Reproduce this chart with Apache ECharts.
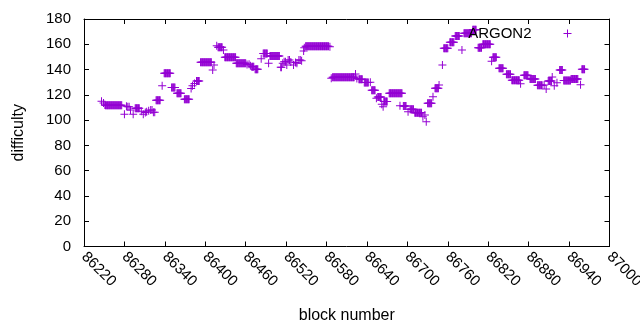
<!DOCTYPE html>
<html>
<head>
<meta charset="utf-8">
<script src="https://cdn.jsdelivr.net/npm/echarts@6/dist/echarts.min.js"></script>
<style>html,body{margin:0;padding:0;background:#fff}#c{width:640px;height:330px}</style>
</head>
<body>
<div id="c"></div>
<script>
const seriesName = 'ARGON2';
const xTickLabels = ['86220','86280','86340','86400','86460','86520','86580','86640','86700','86760','86820','86880','86940','87000'];
const yTickLabels = ['0','20','40','60','80','100','120','140','160','180'];
// [block number, difficulty], one mark per block
const samples = [
 [86246,115],[86249,113.5],[86251,112],
 [86252,111.7],[86253,111.7],[86254,111.7],[86255,111.7],[86256,111.7],[86257,111.7],[86258,111.7],[86259,111.7],[86260,111.7],[86261,111.7],
 [86262,111.7],[86263,111.7],[86264,111.7],[86265,111.7],[86266,111.7],[86267,111.7],[86268,111.7],[86269,111.7],[86270,111.7],[86271,111.7],
 [86272,111.7],[86273,111.7],[86274,111.7],[86275,111.7],[86276,111.7],
 [86280,104.6],[86283,111],[86285,110.5],[86287,110.5],[86289,108],[86293,104.6],
 [86296,109.3],[86297,109.3],[86298,109.3],[86299,109.3],[86300,109.3],[86301,109.3],[86302,109.3],
 [86305,107],[86308,104.6],[86311,106],[86313,106.7],[86316,107.5],[86319,108],[86321,108],[86323,106.2],[86325,106.2],
 [86327,115.7],[86328,115.7],[86329,115.7],[86330,115.7],[86331,115.7],[86332,115.7],[86333,115.7],
 [86336,127.2],
 [86339,137],[86340,137],[86341,137],[86342,137],[86343,137],[86344,137],[86345,137],[86346,137],[86347,137],[86348,137],
 [86350,125.8],[86351,125.8],[86352,125.8],[86353,125.8],[86354,125.8],[86355,125.8],
 [86358,121.2],[86359,121.2],[86360,121.2],[86361,121.2],[86362,121.2],[86363,121.2],[86364,121.2],
 [86369,116.5],[86370,116.5],[86371,116.5],[86372,116.5],[86373,116.5],[86374,116.5],[86375,116.5],[86376,116.5],
 [86379,125],[86381,127.2],[86384,129],
 [86387,131],[86388,131],[86389,131],[86390,131],[86391,131],
 [86393,145.7],[86394,145.7],[86395,145.7],[86396,145.7],[86397,145.7],[86398,145.7],[86399,145.7],[86400,145.7],[86401,145.7],
 [86402,145.7],[86403,145.7],[86404,145.7],[86405,145.7],[86406,145.7],[86407,145.7],[86408,145.7],[86409,145.7],
 [86411,139.6],[86413,143.6],[86417,158.9],
 [86419,157.6],[86420,157.6],[86421,157.6],[86422,157.6],[86423,157.6],[86424,157.6],[86425,157.6],
 [86427,155.5],
 [86429,149.7],[86430,149.7],[86431,149.7],[86432,149.7],[86433,149.7],[86434,149.7],[86435,149.7],[86436,149.7],[86437,149.7],
 [86438,149.7],[86439,149.7],[86440,149.7],[86441,149.7],[86442,149.7],[86443,149.7],[86444,149.7],[86445,149.7],
 [86446,145],[86447,145],[86448,145],[86449,145],[86450,145],[86451,145],[86452,145],[86453,145],[86454,145],[86455,145],
 [86456,145],[86457,145],[86458,145],[86459,145],[86460,145],
 [86462,144],[86465,144.2],[86467,143],
 [86469,142.3],[86470,142.3],[86471,142.3],[86472,142.3],
 [86474,140.2],[86475,140.2],[86476,140.2],[86477,140.2],[86478,140.2],
 [86483,148.6],
 [86486,152.8],[86487,152.8],[86488,152.8],[86489,152.8],[86490,152.8],[86491,152.8],[86492,152.8],
 [86494,145],
 [86496,150.7],[86497,150.7],[86498,150.7],[86499,150.7],[86500,150.7],[86501,150.7],[86502,150.7],[86503,150.7],
 [86504,150.7],[86505,150.7],[86506,150.7],[86507,150.7],[86508,150.7],[86509,150.7],[86510,150.7],
 [86512,141.8],[86513,141.8],[86515,145],[86517,146.2],[86519,146.2],[86521,143.6],[86523,147.6],[86525,147.6],[86527,146],
 [86531,143.6],[86534,145.5],[86536,145],[86539,147.6],[86541,147.6],[86543,147],[86546,154.7],[86547,157.3],
 [86549,158.4],[86550,158.4],[86551,158.4],[86552,158.4],[86553,158.4],[86554,158.4],[86555,158.4],[86556,158.4],[86557,158.4],
 [86558,158.4],[86559,158.4],[86560,158.4],[86561,158.4],[86562,158.4],[86563,158.4],[86564,158.4],[86565,158.4],[86566,158.4],
 [86567,158.4],[86568,158.4],[86569,158.4],[86570,158.4],[86571,158.4],[86572,158.4],[86573,158.4],[86574,158.4],[86575,158.4],
 [86576,158.4],[86577,158.4],[86578,158.4],[86579,158.4],[86580,158.4],[86581,158.4],[86582,158.4],[86583,158.4],
 [86585,158.1],[86587,133.1],
 [86589,133.9],[86590,133.9],[86591,133.9],[86592,133.9],[86593,133.9],[86594,133.9],[86595,133.9],[86596,133.9],[86597,133.9],
 [86598,133.9],[86599,133.9],[86600,133.9],[86601,133.9],[86602,133.9],[86603,133.9],[86604,133.9],[86605,133.9],[86606,133.9],
 [86607,133.9],[86608,133.9],[86609,133.9],[86610,133.9],[86611,133.9],[86612,133.9],[86613,133.9],[86614,133.9],[86615,133.9],
 [86616,133.9],[86617,133.9],[86618,133.9],[86619,133.9],[86620,133.9],[86621,133.9],
 [86623,136.5],[86625,133],
 [86628,132.3],[86629,132.3],[86630,132.3],[86631,132.3],[86632,132.3],[86633,132.3],
 [86636,129.8],[86637,129.8],[86638,129.8],[86639,129.8],[86640,129.8],[86641,129.8],[86642,129.8],
 [86645,129.9],
 [86647,123.6],[86648,123.6],[86649,123.6],[86650,123.6],[86651,123.6],[86652,123.6],
 [86654,117.2],
 [86656,118.3],[86657,118.3],[86658,118.3],[86659,118.3],[86660,118.3],[86661,118.3],
 [86662,112.5],[86664,110.6],
 [86665,114.8],[86666,114.8],[86667,114.8],[86668,114.8],[86669,114.8],[86670,114.8],
 [86673,121.2],[86674,121.2],[86675,121.2],[86676,121.2],[86677,121.2],[86678,121.2],[86679,121.2],[86680,121.2],[86681,121.2],
 [86682,121.2],[86683,121.2],[86684,121.2],[86685,121.2],[86686,121.2],[86687,121.2],[86688,121.2],[86689,121.2],[86690,121.2],
 [86691,121.2],[86692,121.2],
 [86689,111.4],
 [86694,111.1],[86695,111.1],[86696,111.1],[86697,111.1],[86698,111.1],
 [86701,106.7],
 [86704,108.5],[86705,108.5],[86706,108.5],[86707,108.5],[86708,108.5],[86709,108.5],
 [86711,105.9],[86712,105.9],[86713,105.9],[86714,105.9],[86715,105.9],[86716,105.9],[86717,105.9],[86718,105.9],[86719,105.9],
 [86720,105.9],[86721,105.9],
 [86723,102.7],[86726,104],[86728,98.8],
 [86730,113.3],[86731,113.3],[86732,113.3],[86733,113.3],[86734,113.3],[86735,113.3],[86736,113.3],
 [86738,118.5],
 [86741,125.2],[86742,125.2],[86743,125.2],[86744,125.2],[86745,125.2],[86746,125.2],
 [86747,127.8],[86752,143.6],
 [86754,156.8],[86755,156.8],[86756,156.8],[86757,156.8],[86758,156.8],[86759,156.8],[86760,156.8],
 [86763,161.6],[86764,161.6],[86765,161.6],[86766,161.6],[86767,161.6],[86768,161.6],[86769,161.6],
 [86771,166.5],[86772,166.5],[86773,166.5],[86774,166.5],[86775,166.5],[86776,166.5],[86777,166.5],
 [86781,155.5],
 [86784,168.7],[86785,168.7],[86786,168.7],[86787,168.7],[86788,168.7],[86789,168.7],[86790,168.7],[86791,168.7],[86792,168.7],
 [86793,168.7],[86794,168.7],[86795,168.7],
 [86797,171.5],[86798,171.5],[86799,171.5],[86800,171.5],[86801,171.5],[86802,171.5],
 [86805,157.3],[86806,157.3],[86807,157.3],[86808,157.3],[86809,157.3],[86810,157.3],
 [86812,160],[86813,160],[86814,160],[86815,160],[86816,160],[86817,160],[86818,160],[86819,160],[86820,160],[86821,160],
 [86822,160],[86823,160],
 [86825,146.6],
 [86827,149.7],[86828,149.7],[86829,149.7],[86830,149.7],[86831,149.7],[86832,149.7],
 [86836,141],[86837,141],[86838,141],[86839,141],[86840,141],[86841,141],[86842,141],
 [86847,136.2],[86848,136.2],[86849,136.2],[86850,136.2],[86851,136.2],[86852,136.2],[86853,136.2],
 [86855,131.5],[86856,131.5],[86857,131.5],[86858,131.5],[86859,131.5],[86860,131.5],[86861,131.5],[86862,131.5],[86863,131.5],
 [86864,131.5],[86865,131.5],[86866,131.5],
 [86868,128.8],
 [86873,135.5],[86874,135.5],[86875,135.5],[86876,135.5],[86877,135.5],[86878,135.5],[86879,135.5],
 [86882,132.5],[86883,132.5],[86884,132.5],[86885,132.5],[86886,132.5],[86887,132.5],[86888,132.5],[86889,132.5],[86890,132.5],
 [86893,127.5],[86894,127.5],[86895,127.5],[86896,127.5],[86897,127.5],[86898,127.5],[86899,127.5],[86900,127.5],
 [86903,127.8],[86906,124.6],
 [86909,131],[86910,131],[86911,131],[86912,131],[86913,131],[86914,131],
 [86915,134.1],[86918,127.2],[86922,129.6],
 [86926,139.6],[86927,139.6],[86928,139.6],[86929,139.6],[86930,139.6],
 [86932,131.3],[86933,131.3],[86934,131.3],[86935,131.3],[86936,131.3],[86937,131.3],[86938,131.3],[86939,131.3],[86940,131.3],
 [86941,131.3],[86942,131.3],
 [86943,132.5],[86944,132.5],[86945,132.5],[86946,132.5],[86947,132.5],[86948,132.5],[86949,132.5],[86950,132.5],[86951,132.5],
 [86952,132.5],[86953,132.5],
 [86957,128],
 [86959,140.3],[86960,140.3],[86961,140.3],[86962,140.3],[86963,140.3]
];

const FONT = 'Liberation Sans';
const PURPLE = '#9400D3';
const plus = 'path://M0,3.5H8V4.5H0Z M3.5,0H4.5V8H3.5Z';
const xMin = +xTickLabels[0], xMax = +xTickLabels[xTickLabels.length-1];
const xStep = xTickLabels[1] - xTickLabels[0];
const yMin = +yTickLabels[0], yMax = +yTickLabels[yTickLabels.length-1];
const yStep = yTickLabels[1] - yTickLabels[0];

const chart = echarts.init(document.getElementById('c'), null, {renderer: 'canvas'});
const axisCommon = {
  axisLine: {show: true, onZero: false, lineStyle: {color: '#000', width: 1}},
  axisTick: {show: true, inside: true, length: 5, lineStyle: {color: '#000', width: 1}},
  splitLine: {show: false}
};
chart.setOption({
  animation: false,
  textStyle: {fontFamily: FONT},
  grid: {left: 84, right: 30.5, top: 19, bottom: 83.5, containLabel: false, outerBoundsMode: 'none'},
  legend: {
    show: true, right: 68.5, top: 26, padding: 0, align: 'right',
    itemWidth: 8, itemHeight: 8, icon: plus,
    textStyle: {fontFamily: FONT, fontSize: 15, color: '#000', padding: [0, 27, 0, 0]},
    data: [seriesName]
  },
  xAxis: [
    Object.assign({}, axisCommon, {
      type: 'value', position: 'bottom', min: xMin, max: xMax, interval: xStep,
      name: 'block number', nameLocation: 'middle', nameGap: 61,
      nameTextStyle: {fontFamily: FONT, fontSize: 16, color: '#000'},
      axisLabel: {show: true, rotate: -45, margin: 8, fontFamily: FONT, fontSize: 15, color: '#000',
        formatter: v => String(v)}
    }),
    Object.assign({}, axisCommon, {
      type: 'value', position: 'top', min: xMin, max: xMax, interval: xStep,
      axisLabel: {show: false}
    })
  ],
  yAxis: [
    Object.assign({}, axisCommon, {
      type: 'value', position: 'left', min: yMin, max: yMax, interval: yStep,
      name: 'difficulty', nameLocation: 'middle', nameGap: 57, nameRotate: 90,
      nameTextStyle: {fontFamily: FONT, fontSize: 16, color: '#000'},
      axisLabel: {show: true, margin: 13, fontFamily: FONT, fontSize: 15, color: '#000'}
    }),
    Object.assign({}, axisCommon, {
      type: 'value', position: 'right', min: yMin, max: yMax, interval: yStep,
      axisLabel: {show: false}
    })
  ],
  series: [{
    name: seriesName, type: 'scatter', xAxisIndex: 0, yAxisIndex: 0,
    symbol: plus, symbolSize: 8,
    itemStyle: {color: PURPLE, opacity: 1},
    data: samples
  }]
});
</script>
</body>
</html>
